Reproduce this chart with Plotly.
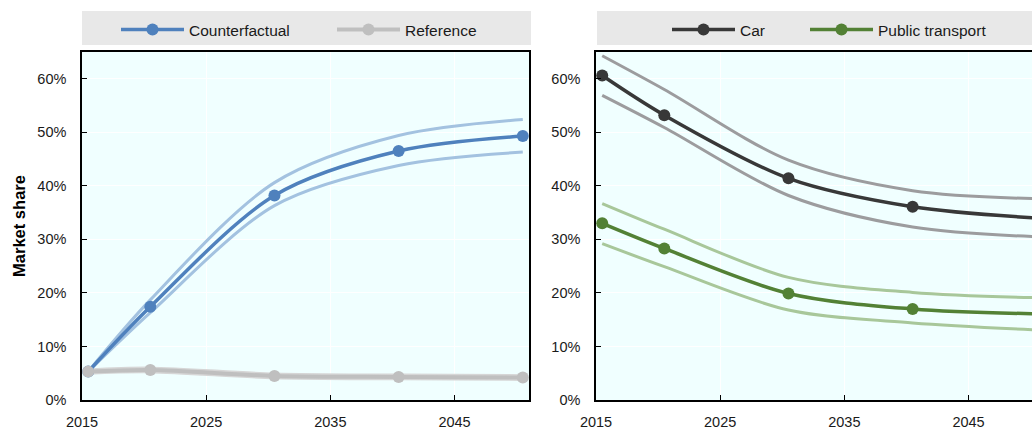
import plotly.graph_objects as go

# Projection years (one point per marker)
YEARS = [2015, 2020, 2030, 2040, 2050]

# Left panel: EV market share, counterfactual vs reference (%)
COUNTERFACTUAL = [5.3, 17.4, 38.2, 46.5, 49.3]
COUNTERFACTUAL_HIGH = [5.3, 18.7, 40.6, 49.4, 52.4]
COUNTERFACTUAL_LOW = [5.3, 16.3, 36.3, 43.8, 46.3]
REFERENCE = [5.3, 5.6, 4.5, 4.3, 4.2]
REFERENCE_HIGH = [5.6, 5.95, 4.85, 4.65, 4.55]
REFERENCE_LOW = [5.0, 5.25, 4.15, 3.95, 3.85]

# Right panel: modal shares (%)
CAR = [60.6, 53.2, 41.4, 36.1, 34.0]
CAR_HIGH = [64.3, 58.0, 44.8, 39.1, 37.6]
CAR_LOW = [56.9, 50.9, 38.2, 32.3, 30.5]
PUBLIC = [33.0, 28.3, 19.9, 17.0, 16.1]
PUBLIC_HIGH = [36.7, 31.9, 22.9, 20.1, 19.1]
PUBLIC_LOW = [29.2, 24.9, 16.8, 14.4, 13.1]

TICK_YEARS = [2015, 2025, 2035, 2045]
Y_TICKS = [0, 10, 20, 30, 40, 50, 60]
Y_TICK_LABELS = ["0%", "10%", "20%", "30%", "40%", "50%", "60%"]

W, H = 1032, 432
FONT = "Liberation Sans, Arial, sans-serif"

BLUE, BLUE_BAND = "#4F81BD", "#A3C2E0"
GREY, GREY_BAND = "#BFBFBF", "#D6D6D6"
DARK, DARK_BAND = "#383838", "#9C9C9E"
GREEN, GREEN_BAND = "#538135", "#A8C79A"

fig = go.Figure()


def band(x_ax, y_ax, values, color, width=3):
    fig.add_trace(go.Scatter(
        x=YEARS, y=values, mode="lines", xaxis=x_ax, yaxis=y_ax,
        line=dict(color=color, width=width, shape="spline", smoothing=0.9),
        showlegend=False, hoverinfo="skip"))


def main(x_ax, y_ax, values, color, name, legend, width=3.5, clip=True):
    fig.add_trace(go.Scatter(
        x=YEARS, y=values, mode="lines+markers", name=name, xaxis=x_ax, yaxis=y_ax,
        line=dict(color=color, width=width, shape="spline", smoothing=0.9),
        marker=dict(color=color, size=12), legend=legend, cliponaxis=clip))


# Left panel
band("x", "y", REFERENCE_HIGH, GREY_BAND)
band("x", "y", REFERENCE_LOW, GREY_BAND)
band("x", "y", COUNTERFACTUAL_HIGH, BLUE_BAND)
band("x", "y", COUNTERFACTUAL_LOW, BLUE_BAND)
main("x", "y", COUNTERFACTUAL, BLUE, "Counterfactual", "legend")
main("x", "y", REFERENCE, GREY, "Reference", "legend2", width=4)

# Right panel
band("x2", "y2", CAR_HIGH, DARK_BAND)
band("x2", "y2", CAR_LOW, DARK_BAND)
band("x2", "y2", PUBLIC_HIGH, GREEN_BAND)
band("x2", "y2", PUBLIC_LOW, GREEN_BAND)
main("x2", "y2", CAR, DARK, "Car", "legend3", clip=False)
main("x2", "y2", PUBLIC, GREEN, "Public transport", "legend4", clip=False)

PX_PER_YEAR = 447 / 36.0
left_x0, left_x1 = 82 / W, 529 / W
right_x0 = 596 / W
y0, y1 = (H - 400) / H, (H - 52) / H

# Category-style axis: each year spans one slot, ticks sit on slot boundaries
xticks = [t - 0.5 for t in TICK_YEARS]
xtext = [str(t) for t in TICK_YEARS]

common_x = dict(
    tickmode="array", tickvals=xticks, ticktext=xtext,
    ticks="inside", ticklen=5, tickwidth=1, tickcolor="#000",
    showline=True, linecolor="#000", linewidth=1.5,
    showgrid=True, gridcolor="#FFFFFF", gridwidth=1, zeroline=False,
    tickfont=dict(family=FONT, size=14.5, color="#1A1A1A"), ticklabelstandoff=8,
    automargin=False, fixedrange=True)
common_y = dict(
    range=[0, 65], tickmode="array", tickvals=Y_TICKS, ticktext=Y_TICK_LABELS,
    ticks="inside", ticklen=5, tickwidth=1, tickcolor="#000",
    showline=True, linecolor="#000", linewidth=1.5,
    showgrid=True, gridcolor="#FFFFFF", gridwidth=1, zeroline=False,
    tickfont=dict(family=FONT, size=14.5, color="#1A1A1A"), ticklabelstandoff=11,
    automargin=False, fixedrange=True)

legend_common = dict(
    orientation="h", xanchor="left", y=(H - 30) / H, yanchor="middle",
    bgcolor="rgba(0,0,0,0)", borderwidth=0,
    font=dict(family=FONT, size=15.5, color="#1A1A1A"), itemwidth=63,
    itemclick=False, itemdoubleclick=False)

right_width_px = W - 596
fig.update_layout(
    width=W, height=H, margin=dict(l=0, r=0, t=0, b=0, autoexpand=False),
    paper_bgcolor="#FFFFFF", plot_bgcolor="#F0FFFF",
    font=dict(family=FONT, size=14, color="#1A1A1A"),
    xaxis=dict(domain=[left_x0, left_x1], range=[2014.5, 2050.5], mirror=True,
               anchor="y", **common_x),
    yaxis=dict(domain=[y0, y1], anchor="x", mirror=True,
               title=dict(text="<b>Market share</b>",
                          font=dict(family=FONT, size=16.5, color="#000"),
                          standoff=8),
               **common_y),
    xaxis2=dict(domain=[right_x0, 1.0],
                range=[2014.5, 2014.5 + right_width_px / PX_PER_YEAR],
                mirror=True, anchor="y2", **common_x),
    yaxis2=dict(domain=[y0, y1], anchor="x2", mirror=False, **common_y),
    legend=dict(x=116 / W, **legend_common),
    legend2=dict(x=332 / W, **legend_common),
    legend3=dict(x=667 / W, **legend_common),
    legend4=dict(x=805 / W, **legend_common),
    shapes=[
        dict(type="rect", xref="paper", yref="paper", x0=82 / W, x1=531 / W,
             y0=(H - 45) / H, y1=(H - 11) / H, fillcolor="#E8E8E8",
             line=dict(width=0), layer="below"),
        dict(type="rect", xref="paper", yref="paper", x0=597 / W, x1=1.0,
             y0=(H - 45) / H, y1=(H - 11) / H, fillcolor="#E8E8E8",
             line=dict(width=0), layer="below"),
    ],
)

fig.write_html("out.html")
